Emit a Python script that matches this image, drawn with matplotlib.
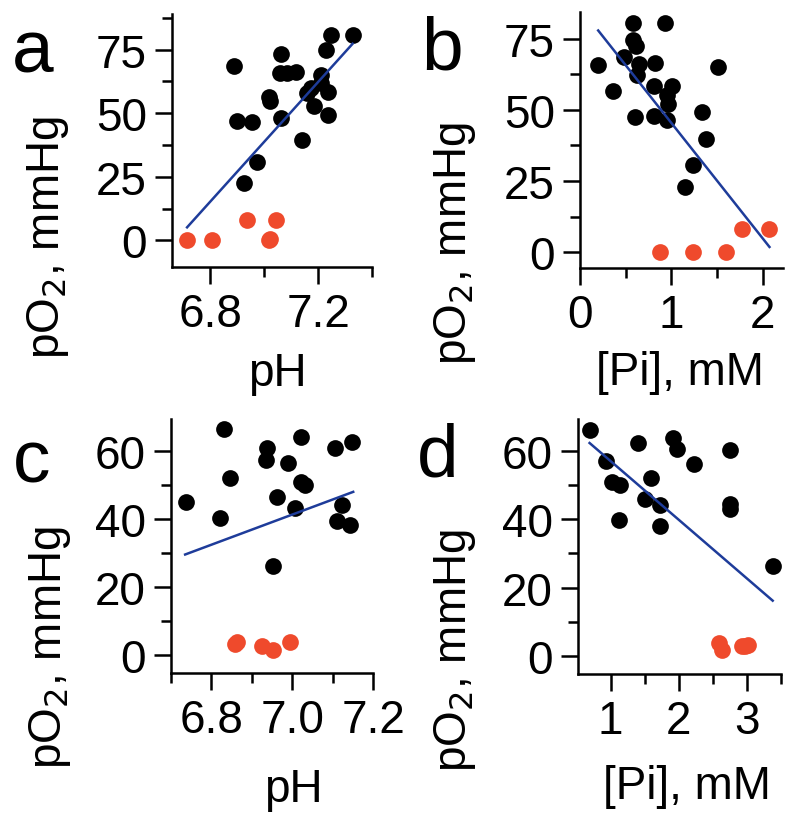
import matplotlib
matplotlib.use("Agg")
import matplotlib.pyplot as plt
from matplotlib.ticker import MultipleLocator, FormatStrFormatter

plt.rcParams['font.family'] = ['Liberation Sans', 'DejaVu Sans']

# panel a: pO2 vs pH
a_x_black = [6.887, 6.897, 6.955, 6.974, 6.924, 7.017, 7.021, 7.061, 7.061, 7.058, 7.086,
             7.117, 7.139, 7.173, 7.160, 7.185, 7.210, 7.210, 7.235, 7.229, 7.247, 7.238, 7.328]
a_y_black = [68.5, 47.1, 46.4, 30.7, 22.7, 56.5, 54.6, 73.4, 48.0, 65.6, 65.9,
             66.3, 39.6, 59.8, 58.0, 52.9, 65.0, 62.0, 58.5, 74.7, 80.6, 49.3, 80.6]
a_x_red = [6.713, 6.804, 6.937, 7.042, 7.017, 7.022]
a_y_red = [0.3, 0.3, 8.1, 8.1, 0.0, 0.5]
a_fit_x = [6.713, 7.328]
a_fit_y = [5.1, 77.3]

# panel b: pO2 vs [Pi]
b_x_black = [0.199, 0.362, 0.478, 0.580, 0.580, 0.612, 0.641, 0.623, 0.605, 0.804, 0.822,
             0.804, 0.931, 1.004, 0.949, 0.967, 0.949, 1.330, 1.377, 1.232, 1.149, 1.504]
b_y_black = [65.6, 56.5, 68.6, 80.6, 74.4, 72.5, 66.2, 62.1, 47.5, 58.4, 66.6,
             48.0, 80.6, 58.4, 55.1, 52.2, 46.3, 49.2, 39.6, 30.5, 22.9, 65.0]
b_x_red = [0.870, 1.239, 1.601, 1.775, 2.065]
b_y_red = [0.2, 0.2, 0.2, 8.2, 8.2]
b_fit_x = [0.199, 2.072]
b_fit_y = [77.9, 1.8]

# panel c: pO2 vs pH
c_x_black = [6.737, 6.831, 6.846, 6.821, 6.938, 6.936, 6.963, 6.953, 6.990, 7.023, 7.021,
             7.031, 7.006, 7.105, 7.148, 7.123, 7.111, 7.142]
c_y_black = [44.8, 66.5, 52.0, 40.1, 60.7, 57.2, 46.3, 26.2, 56.4, 63.9, 50.9,
             49.9, 43.3, 60.7, 62.4, 44.0, 39.4, 38.2]
c_x_red = [6.858, 6.864, 6.926, 6.953, 6.994]
c_y_red = [3.2, 3.9, 2.7, 1.6, 3.9]
c_fit_x = [6.735, 7.151]
c_fit_y = [29.5, 47.9]

# panel d: pO2 vs [Pi]
d_x_black = [0.690, 0.936, 1.025, 1.133, 1.123, 1.403, 1.585, 1.501, 1.722, 1.722, 1.919,
             1.968, 2.224, 2.745, 2.745, 2.745, 3.378]
d_y_black = [66.1, 57.0, 50.7, 50.0, 39.8, 62.1, 52.0, 45.9, 44.1, 38.1, 63.8,
             60.4, 56.1, 60.3, 44.4, 42.8, 26.4]
d_x_red = [2.592, 2.631, 2.926, 3.010, 2.975]
d_y_red = [3.9, 1.7, 3.1, 3.3, 2.9]
d_fit_x = [0.690, 3.378]
d_fit_y = [62.2, 16.2]

W, H = 800, 829
RED = '#EF4A2C'
BLUE = '#1E3C9A'
FS = 33

fig = plt.figure(figsize=(W / 100, H / 100), dpi=100)


def px_axes(left, top, right, bottom):
    return fig.add_axes([left / W, 1 - bottom / H, (right - left) / W, (bottom - top) / H])


panels = [
    # box, data, xlim, ylim, xmaj, xmin, ymaj, ymin, xlabel, xlabel pos, ylabel pos, letter, letter pos
    ((172, 15, 372, 268), (a_x_black, a_y_black, a_x_red, a_y_red, a_fit_x, a_fit_y),
     (6.657, 7.4), (-10.5, 89), 0.4, 0.2, 25, 12.5, 'pH', (0.525, -0.42), (-0.62, 0.12), 'a', (33, 53)),
    ((580, 13, 783, 269), (b_x_black, b_y_black, b_x_red, b_y_red, b_fit_x, b_fit_y),
     (0, 2.22), (-5.6, 84.4), 1, 0.5, 25, 12.5, '[Pi], mM', (0.49, -0.405), (-0.616, 0.1), 'b', (442, 50)),
    ((171, 420, 373, 674), (c_x_black, c_y_black, c_x_red, c_y_red, c_fit_x, c_fit_y),
     (6.70, 7.2), (-5.3, 69.3), 0.2, 0.1, 20, 10, 'pH', (0.604, -0.455), (-0.6, 0.105), 'c', (32, 463)),
    ((578, 420, 781, 675), (d_x_black, d_y_black, d_x_red, d_y_red, d_fit_x, d_fit_y),
     (0.52, 3.5), (-5.2, 69.2), 1, 0.5, 20, 10, '[Pi], mM', (0.537, -0.44), (-0.606, 0.095), 'd', (438, 457)),
]

for box, data, xlim, ylim, xmaj, xmin, ymaj, ymin, xlab, xlpos, ylpos, letter, lpos in panels:
    ax = px_axes(*box)
    xb, yb, xr, yr, fx, fy = data
    ax.scatter(xb, yb, s=145, color='black', linewidths=0, zorder=3)
    ax.scatter(xr, yr, s=145, color=RED, linewidths=0, zorder=3)
    ax.plot(fx, fy, color=BLUE, lw=1.8, zorder=4)
    ax.set_xlim(*xlim)
    ax.set_ylim(*ylim)
    ax.xaxis.set_major_locator(MultipleLocator(xmaj))
    ax.xaxis.set_minor_locator(MultipleLocator(xmin))
    ax.yaxis.set_major_locator(MultipleLocator(ymaj))
    ax.yaxis.set_minor_locator(MultipleLocator(ymin))
    if xlab == 'pH':
        ax.xaxis.set_major_formatter(FormatStrFormatter('%.1f'))
    for s in ['top', 'right']:
        ax.spines[s].set_visible(False)
    for s in ['left', 'bottom']:
        ax.spines[s].set_linewidth(1.8)
    ax.tick_params(which='major', length=12, width=1.8, labelsize=FS, pad=6)
    ax.tick_params(which='minor', length=7, width=1.8)
    ax.set_xlabel(xlab, fontsize=FS, va='center')
    ax.xaxis.set_label_coords(*xlpos)
    ax.set_ylabel('pO$_2$, mmHg', fontsize=FS, va='center')
    ax.yaxis.set_label_coords(*ylpos)
    fig.text(lpos[0] / W, 1 - lpos[1] / H, letter, fontsize=54, ha='center', va='center')

fig.savefig('out.png', dpi=100)
